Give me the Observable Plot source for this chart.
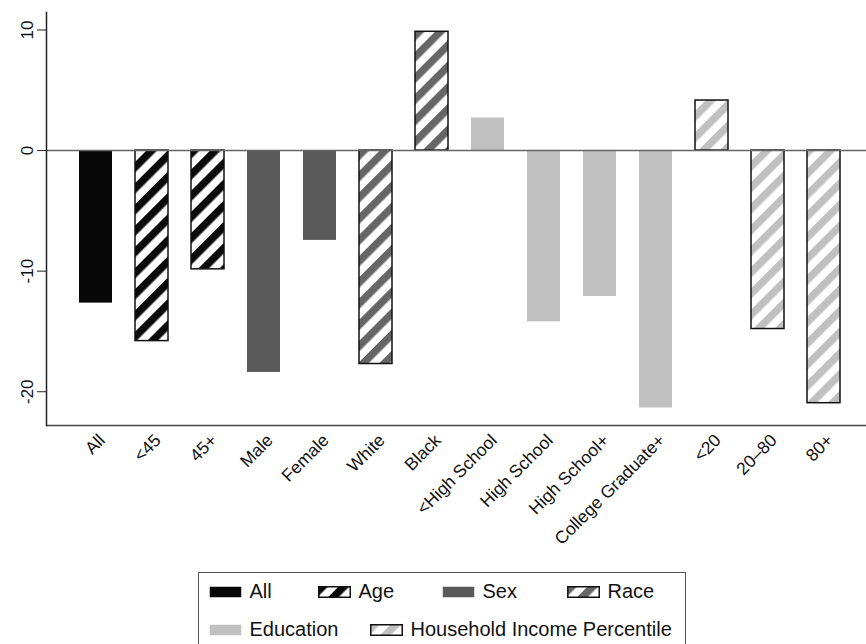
<!DOCTYPE html>
<html>
<head>
<meta charset="utf-8">
<script src="https://cdn.jsdelivr.net/npm/d3@7"></script>
<script src="https://cdn.jsdelivr.net/npm/@observablehq/plot@0.6"></script>
<style>
  body { margin: 0; overflow: hidden; background: #fff; font-family: "Liberation Sans", Arial, Helvetica, sans-serif; }
  #wrap { position: relative; width: 866px; height: 644px; }
  #defs { position: absolute; width: 0; height: 0; }
  #legend { position: absolute; left: 198px; top: 572px; width: 488px; height: 90px;
            border: 1.5px solid #555; box-sizing: border-box; }
  .item { position: absolute; display: flex; align-items: center; height: 24px;
          font-size: 20px; color: #111; white-space: nowrap; }
  .item svg { margin-right: 8px; display: block; }
  #chart svg text { font-size: 16px; }
  #chart svg g[aria-label="x-axis tick label"] text { font-size: 17.5px; }
  #chart svg g[aria-label="y-axis tick label"] text { font-size: 17px; }
</style>
</head>
<body>
<div id="wrap">
  <svg id="defs" aria-hidden="true">
    <defs>
      <pattern id="stripe-age" patternUnits="userSpaceOnUse" width="15" height="15" patternTransform="rotate(45)">
        <rect width="15" height="15" fill="#fff"></rect>
        <rect width="7.5" height="15" fill="#0a0a0a"></rect>
      </pattern>
      <pattern id="stripe-race" patternUnits="userSpaceOnUse" width="15" height="15" patternTransform="rotate(45)">
        <rect width="15" height="15" fill="#fff"></rect>
        <rect width="7.5" height="15" fill="#666"></rect>
      </pattern>
      <pattern id="stripe-income" patternUnits="userSpaceOnUse" width="15" height="15" patternTransform="rotate(45)">
        <rect width="15" height="15" fill="#fff"></rect>
        <rect width="7.5" height="15" fill="#c0c0c0"></rect>
      </pattern>
    </defs>
  </svg>
  <div id="chart"></div>
  <div id="legend"></div>
</div>
<script>
// Subgroups along the x axis
const categories = ["All", "<45", "45+", "Male", "Female", "White", "Black",
  "<High School", "High School", "High School+", "College Graduate+", "<20", "20–80", "80+"];
// Grouping each subgroup belongs to
const groups = ["All", "Age", "Age", "Sex", "Sex", "Race", "Race",
  "Education", "Education", "Education", "Education",
  "Household Income Percentile", "Household Income Percentile", "Household Income Percentile"];
// Bar values
const values = [-12.65, -15.8, -9.85, -18.4, -7.45, -17.7, 9.85,
  2.7, -14.2, -12.1, -21.35, 4.15, -14.8, -20.95];
// Y ticks and domain
const yTicks = [-20, -10, 0, 10];
const yDomain = [-22.8, 11.45];
// Legend entries
const legendGroups = ["All", "Age", "Sex", "Race", "Education", "Household Income Percentile"];

const fills = {
  "All": "#080808",
  "Age": "url(#stripe-age)",
  "Sex": "#595959",
  "Race": "url(#stripe-race)",
  "Education": "#c0c0c0",
  "Household Income Percentile": "url(#stripe-income)"
};
const striped = g => fills[g].startsWith("url");

const data = categories.map((c, i) => ({cat: c, group: groups[i], value: values[i]}));

const chart = Plot.plot({
  width: 866,
  height: 566,
  marginTop: 12,
  marginBottom: 141,
  marginLeft: 46,
  marginRight: 0,
  style: {fontFamily: '"Liberation Sans", Arial, Helvetica, sans-serif', color: "#111", background: "#fff"},
  color: {type: "identity"},
  x: {domain: categories, range: [65, 853], paddingInner: 0.414, paddingOuter: 0.207, label: null},
  y: {domain: yDomain, label: null},
  marks: [
    Plot.barY(data, {
      x: "cat", y: "value",
      fill: d => fills[d.group],
      stroke: d => striped(d.group) ? "#111" : "none",
      strokeWidth: 1.5
    }),
    Plot.ruleY([0], {stroke: "#666", strokeWidth: 1.5}),
    Plot.ruleY([yDomain[0]], {stroke: "#444", strokeWidth: 1.5}),
    Plot.frame({anchor: "left", stroke: "#222", strokeWidth: 1.5}),
    Plot.axisY({ticks: yTicks, tickSize: 9, tickRotate: -90, tickPadding: 5,
      tickFormat: d => String(d), stroke: "#222"}),
    Plot.axisX({tickSize: 0, tickRotate: -45, tickPadding: 12, dx: 6})
  ]
});
document.getElementById("chart").appendChild(chart);

// Legend box below the plot
const legendPos = [
  {x: 209, row: 0}, {x: 318, row: 0}, {x: 442, row: 0}, {x: 567, row: 0},
  {x: 209, row: 1}, {x: 370, row: 1}
];
const rowCenters = [592, 630];
const legend = d3.select("#legend");
legendGroups.forEach((g, i) => {
  const p = legendPos[i];
  const item = legend.append("div").attr("class", "item")
    .style("left", (p.x - 198 - 1.5) + "px")
    .style("top", (rowCenters[p.row] - 572 - 12 - 1.5) + "px");
  const sw = item.append("svg").attr("width", 33).attr("height", 12);
  sw.append("rect").attr("x", 0.75).attr("y", 0.75).attr("width", 31.5).attr("height", 10.5)
    .attr("fill", fills[g])
    .attr("stroke", striped(g) ? "#111" : "none").attr("stroke-width", 1.5);
  item.append("span").text(g);
});
</script>
</body>
</html>
